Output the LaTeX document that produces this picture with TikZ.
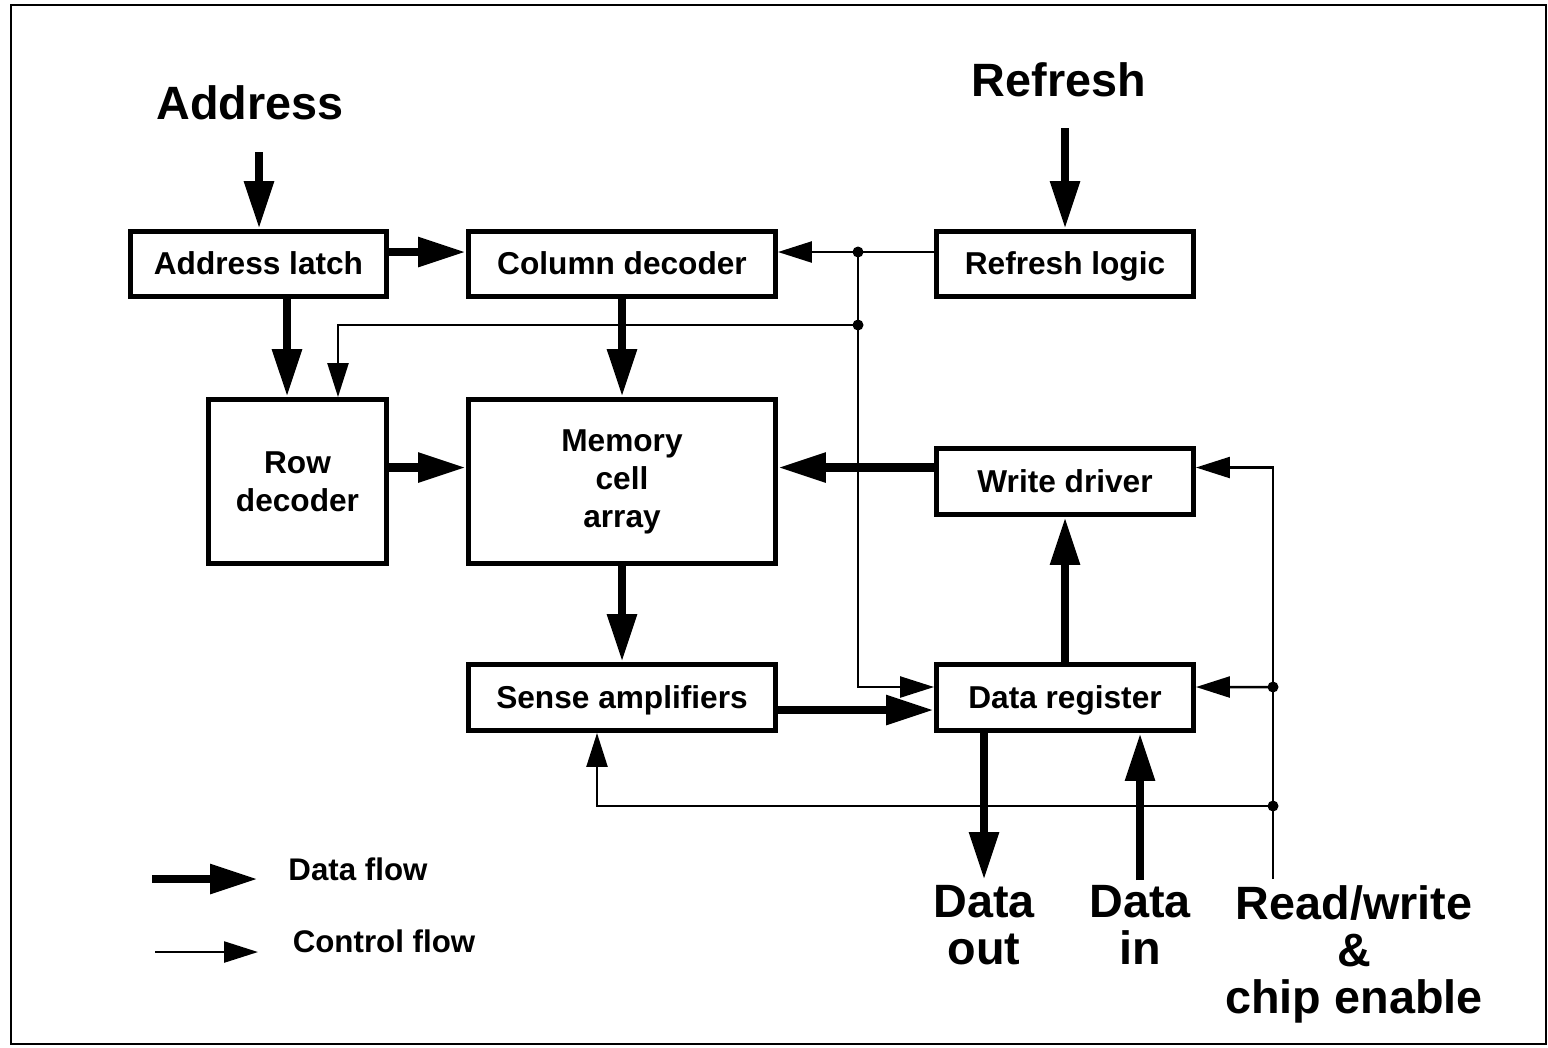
\documentclass[tikz,border=0pt]{standalone}
\usepackage{fontspec}
\setmainfont{Liberation Sans}
\usepackage{tikz}
\usetikzlibrary{positioning,arrows.meta}

\begin{document}
\begin{tikzpicture}[on grid,
    block/.style={draw, line width=1.4pt, inner sep=0pt, align=center,
      font=\bfseries\fontsize{9}{10.8}\selectfont},
    oneline/.style={block, text height=0.6em, text depth=0em},
    big/.style={inner sep=0.5mm, align=center,
      font=\bfseries\fontsize{13.3}{13.4}\selectfont},
    small/.style={inner sep=0pt, font=\bfseries\fontsize{8.9}{10}\selectfont},
    data/.style={line width=2.5pt, -{Triangle[length=0.48cm,width=0.28cm]}},
    ctrl/.style={line width=0.7pt, -{Triangle[length=0.34cm,width=0.21cm]}},
    dot/.style={circle, fill, inner sep=0pt, minimum size=0.11cm}]
  \useasboundingbox (0,0) rectangle (15.48,-10.47);
  \draw[line width=0.6pt] (0.11,-0.05) rectangle (15.46,-10.44);

  % the blocks
  \node[block, minimum width=3.07cm, minimum height=1.64cm] (mem) at (6.22,-4.815) {Memory\\cell\\array};
  \node[oneline, minimum width=3.07cm, minimum height=0.65cm] (coldec) [above=2.175 of mem] {Column decoder};
  \node[oneline, minimum width=3.07cm, minimum height=0.66cm] (sense) [below=2.16 of mem] {Sense amplifiers};
  \node[oneline, minimum width=2.57cm, minimum height=0.66cm] (wdrv) [right=4.43 of mem] {Write driver};
  \node[oneline, minimum width=2.57cm, minimum height=0.65cm] (refl) [above=2.175 of wdrv] {Refresh logic};
  \node[oneline, minimum width=2.57cm, minimum height=0.66cm] (dreg) [below=2.16 of wdrv] {Data register};
  \node[block, minimum width=1.78cm, minimum height=1.64cm] (rowdec) [left=3.245 of mem] {Row\\decoder};
  \node[oneline, minimum width=2.56cm, minimum height=0.65cm] (alatch) [above left=2.175 and 3.635 of mem] {Address latch};

  % outside signals
  \node[big] (addr) at (2.50,-1.03) {Address};
  \node[big] (refr) at (10.59,-0.80) {Refresh};
  \node[big, anchor=north] (dout) at (9.84,-8.80) {Data\\out};
  \node[big, anchor=north] (din) at (11.40,-8.80) {Data\\in};
  \node[big, anchor=north] (rwce) at (13.54,-8.80) {Read/write\\\&\\chip enable};
  \coordinate (addrin) at (2.59,-1.52);
  \coordinate (refrin) at (10.65,-1.28);
  \coordinate (rw) at (12.73,-8.79);

  % junctions
  \node[dot] (j1) at (8.58,-2.52) {};
  \node[dot] (j2) at (8.58,-3.25) {};
  \node[dot] (j3) at (12.73,-6.87) {};
  \node[dot] (j4) at (12.73,-8.06) {};

  % data flow
  \draw[data] (addrin) -- (addrin |- alatch.north);
  \draw[data] (refrin) -- (refrin |- refl.north);
  \draw[data] ([yshift=1.2mm]alatch.east) -- ([yshift=1.2mm]coldec.west);
  \draw[data] ([xshift=-1.05mm]rowdec.north |- alatch.south) -- ([xshift=-1.05mm]rowdec.north);
  \draw[data] (coldec) -- (mem);
  \draw[data] ([yshift=1.4mm]rowdec.east) -- ([yshift=1.4mm]mem.west);
  \draw[data] ([yshift=1.4mm]wdrv.west) -- ([yshift=1.4mm]mem.east);
  \draw[data] (mem) -- (sense);
  \draw[data] (dreg) -- (wdrv);
  \draw[data] ([yshift=-1.25mm]sense.east) -- ([yshift=-1.25mm]dreg.west);
  \draw[data] (dreg.south -| dout.north) -- (dout.north);
  \draw[data] (din.north) -- (din.north |- dreg.south);

  % control flow
  \draw[ctrl] ([yshift=1.2mm]refl.west) -- ([yshift=1.2mm]coldec.east);
  \draw[ctrl] (j1.center) |- ([yshift=1.05mm]dreg.west);
  \draw[ctrl] (j2.center) -| ([xshift=4.05mm]rowdec.north);
  \draw[ctrl] (rw) |- ([yshift=1.4mm]wdrv.east);
  \draw[ctrl] (j3.center) -- ([yshift=1.05mm]dreg.east);
  \draw[ctrl] (j4.center) -| ([xshift=-2.5mm]sense.south);

  % legend
  \coordinate (lgd0) at (1.52,-8.79);
  \coordinate (lgd1) at (2.58,-8.79);
  \coordinate (lgc0) at (1.55,-9.52);
  \coordinate (lgc1) at (2.58,-9.52);
  \draw[data] (lgd0) -- (lgd1);
  \draw[ctrl] (lgc0) -- (lgc1);
  \node[small] (lgdata) at (3.58,-8.69) {Data flow};
  \node[small] (lgctrl) at (3.84,-9.41) {Control flow};
\end{tikzpicture}
\end{document}
